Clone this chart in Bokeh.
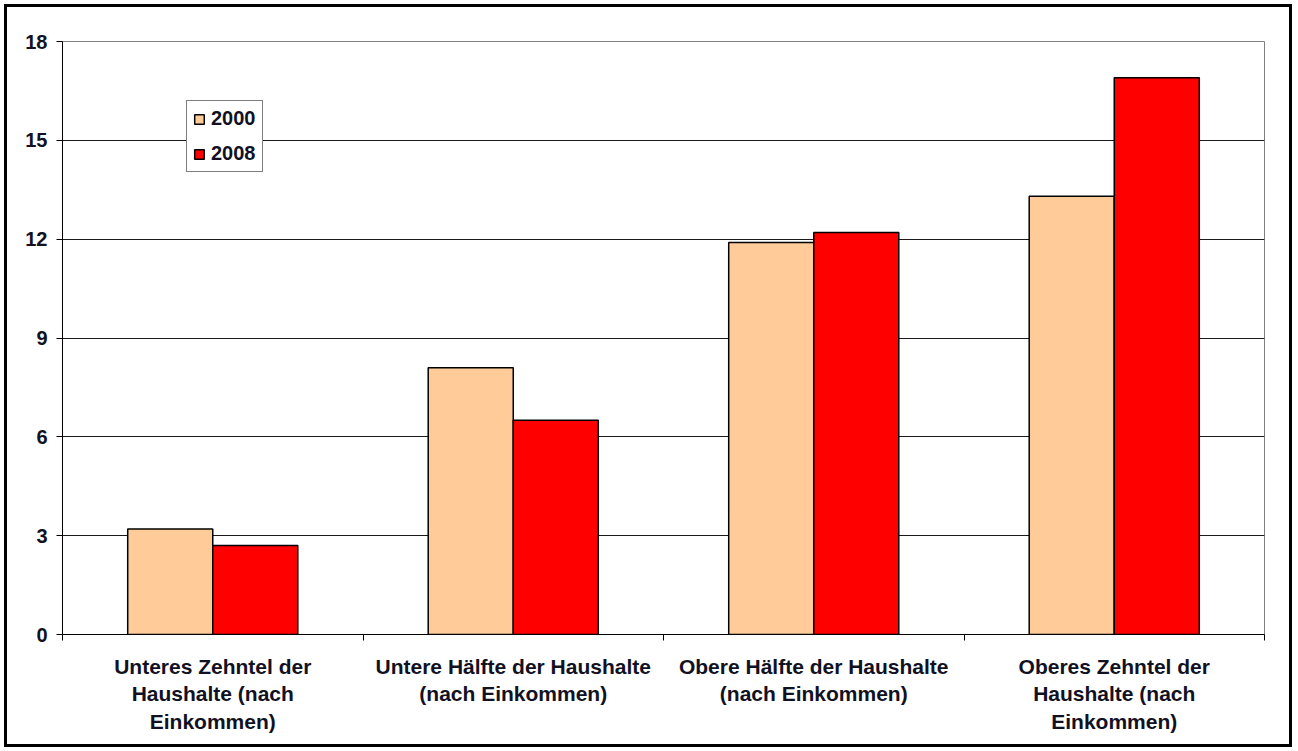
import numpy as np
from bokeh.plotting import figure
from bokeh.models import ColumnDataSource, FixedTicker, Legend, LegendItem, Range1d
from bokeh.embed import file_html
from bokeh.resources import INLINE

categories = [
    "Unteres Zehntel der\nHaushalte (nach\nEinkommen)",
    "Untere Hälfte der Haushalte\n(nach Einkommen)",
    "Obere Hälfte der Haushalte\n(nach Einkommen)",
    "Oberes Zehntel der\nHaushalte (nach\nEinkommen)",
]
years = ["2000", "2008"]
values_2000 = [3.2, 8.1, 11.9, 13.3]
values_2008 = [2.7, 6.5, 12.2, 16.9]
y_ticks = [0, 3, 6, 9, 12, 15, 18]
colors = ["#FFCC99", "#FF0000"]

FONT = "Liberation Sans"
TXT = "#111122"

n = len(categories)
centers = np.arange(n) + 0.5
bar_w = 0.283

p = figure(width=1288, height=743, output_backend="svg", toolbar_location=None,
           x_range=Range1d(0, n), y_range=Range1d(0, 18),
           min_border_left=55, min_border_top=34, min_border_right=31, min_border_bottom=116)
p.styles = {"border": "3px solid black", "margin": "4px 0 0 4px"}
p.background_fill_color = "white"
p.border_fill_color = "white"
p.outline_line_color = "#808080"
p.outline_line_width = 1

src = ColumnDataSource(dict(x0=centers - bar_w / 2, x1=centers + bar_w / 2,
                            v0=values_2000, v1=values_2008))
r0 = p.vbar(x="x0", top="v0", width=bar_w, bottom=0, source=src,
            fill_color=colors[0], line_color="#000000", line_width=1.5)
r1 = p.vbar(x="x1", top="v1", width=bar_w, bottom=0, source=src,
            fill_color=colors[1], line_color="#000000", line_width=1.5)

# axes
p.yaxis.ticker = FixedTicker(ticks=y_ticks)
p.yaxis.major_tick_out = 6
p.yaxis.major_tick_in = 0
p.yaxis.minor_tick_line_color = None
p.yaxis.axis_line_color = "#000000"
p.yaxis.major_tick_line_color = "#000000"
p.yaxis.major_label_text_font = FONT
p.yaxis.major_label_text_font_style = "bold"
p.yaxis.major_label_text_font_size = "20px"
p.yaxis.major_label_text_color = TXT
p.yaxis.major_label_standoff = 9

p.xaxis.ticker = FixedTicker(ticks=list(centers), minor_ticks=list(range(n + 1)))
p.xaxis.major_label_overrides = {float(c): lab for c, lab in zip(centers, categories)}
p.xaxis.major_tick_line_color = None
p.xaxis.major_tick_out = 0
p.xaxis.major_tick_in = 0
p.xaxis.minor_tick_line_color = "#000000"
p.xaxis.minor_tick_out = 6
p.xaxis.minor_tick_in = 0
p.xaxis.axis_line_color = "#000000"
p.xaxis.major_label_text_font = FONT
p.xaxis.major_label_text_font_style = "bold"
p.xaxis.major_label_text_font_size = "21px"
p.xaxis.major_label_text_color = TXT
p.xaxis.major_label_text_line_height = 1.2
p.xaxis.major_label_standoff = 14

p.xgrid.grid_line_color = None
p.ygrid.ticker = FixedTicker(ticks=y_ticks)
p.ygrid.grid_line_color = "#1a1a1a"
p.ygrid.grid_line_width = 1

legend = Legend(items=[LegendItem(label=years[0], renderers=[r0]),
                       LegendItem(label=years[1], renderers=[r1])],
                location=(124, 462), orientation="vertical")
legend.label_text_font = FONT
legend.label_text_font_style = "bold"
legend.label_text_font_size = "20px"
legend.label_text_color = TXT
legend.glyph_width = 12
legend.glyph_height = 12
legend.label_standoff = 6
legend.label_height = 22
legend.spacing = 12
legend.padding = 6
legend.margin = 0
legend.border_line_color = "#000000"
legend.border_line_width = 1.5
legend.background_fill_color = "white"
legend.background_fill_alpha = 1
p.add_layout(legend, "center")

open("out.html", "w").write(file_html(p, INLINE))
